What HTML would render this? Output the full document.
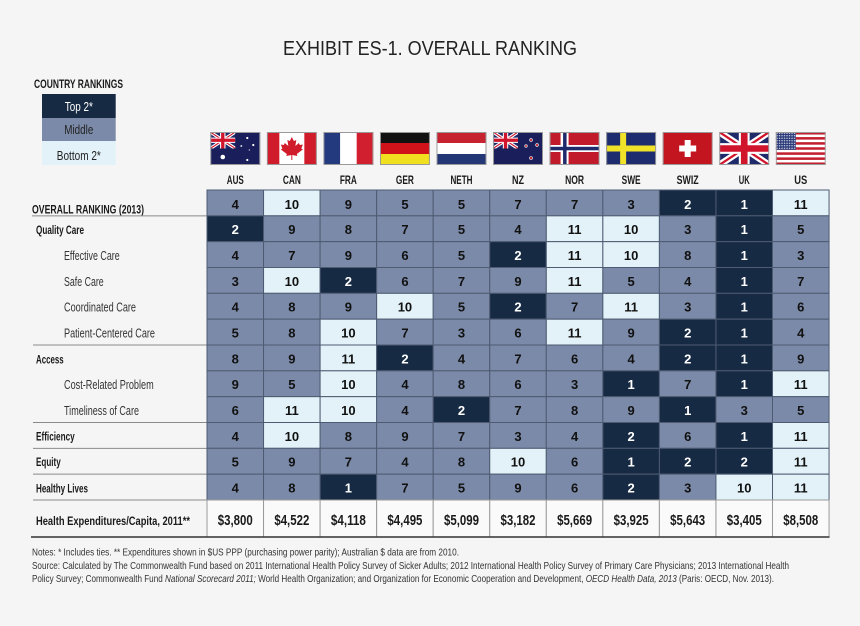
<!DOCTYPE html>
<html><head><meta charset="utf-8"><style>
html,body{margin:0;padding:0;background:#f5f5f5;}
svg{display:block;}
text{font-family:"Liberation Sans Narrow","Liberation Sans",sans-serif;}
.n{font-size:13px;font-weight:bold;text-anchor:middle;fill:#111;}
.w{fill:#fff;}
.row rect{stroke:#4e5b72;stroke-width:1;}
rect.d{fill:#172a43;} rect.m{fill:#7b8aa8;} rect.l{fill:#e3f2f8;}
.lb{font-size:12px;font-weight:bold;fill:#1a1a1a;}
.ls{font-size:12.5px;fill:#333;}
.hd{font-size:12px;font-weight:bold;fill:#1a1a1a;text-anchor:middle;}
.ex{font-size:15px;font-weight:bold;fill:#1a1a1a;text-anchor:middle;}
.nt{font-size:10.3px;fill:#333;}
</style></head><body>
<svg width="860" height="626" viewBox="0 0 860 626" xmlns="http://www.w3.org/2000/svg">
<defs>
<symbol id="uj" viewBox="0 0 60 40" preserveAspectRatio="none">
<rect width="60" height="40" fill="#1f2a6b"/>
<path d="M0,0 L60,40 M60,0 L0,40" stroke="#fff" stroke-width="8"/>
<path d="M0,0 L60,40 M60,0 L0,40" stroke="#cf142b" stroke-width="2.7"/>
<path d="M30,0 V40 M0,20 H60" stroke="#fff" stroke-width="13"/>
<path d="M30,0 V40 M0,20 H60" stroke="#cf142b" stroke-width="8"/>
</symbol>
<pattern id="stars" width="2.5" height="2.5" patternUnits="userSpaceOnUse"><circle cx="1.25" cy="1.25" r="0.6" fill="#fff"/></pattern>
</defs>
<rect width="860" height="626" fill="#f5f5f5"/>

<text x="283" y="55" textLength="294" lengthAdjust="spacingAndGlyphs" style="font-family:'Liberation Sans',sans-serif;font-size:20px;fill:#222;">EXHIBIT ES-1. OVERALL RANKING</text>

<!-- legend -->
<text x="34" y="88" class="lb" style="font-size:11.5px" textLength="89" lengthAdjust="spacingAndGlyphs">COUNTRY RANKINGS</text>
<rect x="42" y="94" width="73.7" height="24" fill="#172a43"/>
<rect x="42" y="118" width="73.7" height="23" fill="#7b8aa8"/>
<rect x="42" y="141" width="73.7" height="24" fill="#e3f2f8"/>
<text x="78.8" y="111" text-anchor="middle" style="font-size:12.5px;fill:#fff" textLength="28" lengthAdjust="spacingAndGlyphs">Top 2*</text>
<text x="78.8" y="134" text-anchor="middle" style="font-size:12.5px;fill:#222" textLength="29" lengthAdjust="spacingAndGlyphs">Middle</text>
<text x="78.8" y="160" text-anchor="middle" style="font-size:12.5px;fill:#222" textLength="44" lengthAdjust="spacingAndGlyphs">Bottom 2*</text>

<!-- flags -->
<svg x="210.28" y="132" width="50" height="33" viewBox="0 0 50 33">
<rect width="50" height="33" fill="#1a1f5c"/>
<use href="#uj" x="0" y="0" width="25" height="16.5"/>
<circle cx="12.5" cy="25" r="2.3" fill="#fff"/>
<circle cx="37" cy="6" r="1.1" fill="#fff"/><circle cx="43" cy="13" r="1.1" fill="#fff"/>
<circle cx="31" cy="14" r="0.9" fill="#fff"/><circle cx="37" cy="28" r="1.1" fill="#fff"/><circle cx="39" cy="18" r="0.6" fill="#fff"/>
<rect x="0.5" y="0.5" width="49" height="32" fill="none" stroke="#999"/>
</svg>
<svg x="266.83" y="132" width="50" height="33" viewBox="0 0 50 33">
<rect width="50" height="33" fill="#fff"/>
<rect width="12.5" height="33" fill="#d01c2a"/><rect x="37.5" width="12.5" height="33" fill="#d01c2a"/>
<polygon fill="#d01c2a" points="25,5 27,9 29.5,8 28.5,14 32,11 33,13 36,12.5 34.5,16.5 36,17.5 30,22 30.5,24 25.5,23 25.5,28 24.5,28 24.5,23 19.5,24 20,22 14,17.5 15.5,16.5 14,12.5 17,13 18,11 21.5,14 20.5,8 23,9"/>
<rect x="0.5" y="0.5" width="49" height="32" fill="none" stroke="#999"/>
</svg>
<svg x="323.38" y="132" width="50" height="33" viewBox="0 0 50 33">
<rect width="50" height="33" fill="#fff"/>
<rect width="16.7" height="33" fill="#243a7f"/><rect x="33.3" width="16.7" height="33" fill="#d21f2f"/>
<rect x="0.5" y="0.5" width="49" height="32" fill="none" stroke="#999"/>
</svg>
<svg x="379.93" y="132" width="50" height="33" viewBox="0 0 50 33">
<rect width="50" height="11" fill="#111"/><rect y="11" width="50" height="11" fill="#d0121b"/><rect y="22" width="50" height="11" fill="#f0e020"/>
<rect x="0.5" y="0.5" width="49" height="32" fill="none" stroke="#999"/>
</svg>
<svg x="436.48" y="132" width="50" height="33" viewBox="0 0 50 33">
<rect width="50" height="11" fill="#c62230"/><rect y="11" width="50" height="11" fill="#fff"/><rect y="22" width="50" height="11" fill="#233777"/>
<rect x="0.5" y="0.5" width="49" height="32" fill="none" stroke="#999"/>
</svg>
<svg x="493.03" y="132" width="50" height="33" viewBox="0 0 50 33">
<rect width="50" height="33" fill="#1a1f5c"/>
<use href="#uj" x="0" y="0" width="25" height="16.5"/>
<g fill="#c8202c" stroke="#fff" stroke-width="0.6">
<circle cx="38" cy="8" r="1.4"/><circle cx="44" cy="13" r="1.4"/><circle cx="33" cy="14" r="1.3"/><circle cx="38" cy="26" r="1.5"/></g>
<rect x="0.5" y="0.5" width="49" height="32" fill="none" stroke="#999"/>
</svg>
<svg x="549.58" y="132" width="50" height="33" viewBox="0 0 50 33">
<rect width="50" height="33" fill="#c11b2b"/>
<rect x="11" width="8" height="33" fill="#fff"/><rect y="13" width="50" height="7" fill="#fff"/>
<rect x="13.5" width="3.5" height="33" fill="#1f2a6b"/><rect y="14.8" width="50" height="3.5" fill="#1f2a6b"/>
<rect x="0.5" y="0.5" width="49" height="32" fill="none" stroke="#999"/>
</svg>
<svg x="606.13" y="132" width="50" height="33" viewBox="0 0 50 33">
<rect width="50" height="33" fill="#1d2c6e"/>
<rect x="14" width="6" height="33" fill="#f0e228"/><rect y="13.5" width="50" height="6" fill="#f0e228"/>
<rect x="0.5" y="0.5" width="49" height="32" fill="none" stroke="#999"/>
</svg>
<svg x="662.68" y="132" width="50" height="33" viewBox="0 0 50 33">
<rect width="50" height="33" fill="#c3151f"/>
<rect x="22" y="8" width="6" height="17" fill="#fff"/><rect x="16.5" y="13.5" width="17" height="6" fill="#fff"/>
<rect x="0.5" y="0.5" width="49" height="32" fill="none" stroke="#999"/>
</svg>
<svg x="719.23" y="132" width="50" height="33" viewBox="0 0 50 33">
<use href="#uj" x="0" y="0" width="50" height="33"/>
<rect x="0.5" y="0.5" width="49" height="32" fill="none" stroke="#999"/>
</svg>
<svg x="775.78" y="132" width="50" height="33" viewBox="0 0 50 33">
<rect width="50" height="33" fill="#fff"/>
<g fill="#c3202f"><rect y="0" width="50" height="2.54"/><rect y="5.08" width="50" height="2.54"/><rect y="10.15" width="50" height="2.54"/><rect y="15.23" width="50" height="2.54"/><rect y="20.31" width="50" height="2.54"/><rect y="25.38" width="50" height="2.54"/><rect y="30.46" width="50" height="2.54"/></g>
<rect width="20" height="17.8" fill="#2a3a7a"/><rect width="20" height="17.8" fill="url(#stars)"/>
<rect x="0.5" y="0.5" width="49" height="32" fill="none" stroke="#999"/>
</svg>

<!-- column headers -->
<text class="hd" x="235.28" y="184" textLength="17" lengthAdjust="spacingAndGlyphs">AUS</text>
<text class="hd" x="291.83" y="184" textLength="18" lengthAdjust="spacingAndGlyphs">CAN</text>
<text class="hd" x="348.38" y="184" textLength="17" lengthAdjust="spacingAndGlyphs">FRA</text>
<text class="hd" x="404.93" y="184" textLength="18" lengthAdjust="spacingAndGlyphs">GER</text>
<text class="hd" x="461.48" y="184" textLength="22" lengthAdjust="spacingAndGlyphs">NETH</text>
<text class="hd" x="518.03" y="184" textLength="12" lengthAdjust="spacingAndGlyphs">NZ</text>
<text class="hd" x="574.58" y="184" textLength="19" lengthAdjust="spacingAndGlyphs">NOR</text>
<text class="hd" x="631.13" y="184" textLength="19" lengthAdjust="spacingAndGlyphs">SWE</text>
<text class="hd" x="687.68" y="184" textLength="22" lengthAdjust="spacingAndGlyphs">SWIZ</text>
<text class="hd" x="744.23" y="184" textLength="11" lengthAdjust="spacingAndGlyphs">UK</text>
<text class="hd" x="800.78" y="184" textLength="13" lengthAdjust="spacingAndGlyphs">US</text>

<!-- left labels -->
<text class="lb" x="32" y="213.3" textLength="112" lengthAdjust="spacingAndGlyphs">OVERALL RANKING (2013)</text>
<text class="lb" x="36" y="234.2" textLength="48" lengthAdjust="spacingAndGlyphs">Quality Care</text>
<text class="ls" x="64" y="260.1" textLength="55.7" lengthAdjust="spacingAndGlyphs">Effective Care</text>
<text class="ls" x="64" y="285.9" textLength="39.7" lengthAdjust="spacingAndGlyphs">Safe Care</text>
<text class="ls" x="64" y="311.7" textLength="72" lengthAdjust="spacingAndGlyphs">Coordinated Care</text>
<text class="ls" x="64" y="337.6" textLength="91" lengthAdjust="spacingAndGlyphs">Patient-Centered Care</text>
<text class="lb" x="36" y="363.4" textLength="27.7" lengthAdjust="spacingAndGlyphs">Access</text>
<text class="ls" x="64" y="389.2" textLength="89.7" lengthAdjust="spacingAndGlyphs">Cost-Related Problem</text>
<text class="ls" x="64" y="415.1" textLength="75" lengthAdjust="spacingAndGlyphs">Timeliness of Care</text>
<text class="lb" x="36" y="440.4" textLength="38.7" lengthAdjust="spacingAndGlyphs">Efficiency</text>
<text class="lb" x="36" y="466.2" textLength="24.7" lengthAdjust="spacingAndGlyphs">Equity</text>
<text class="lb" x="36" y="492.6" textLength="52" lengthAdjust="spacingAndGlyphs">Healthy Lives</text>
<text class="lb" x="36" y="525" textLength="154" lengthAdjust="spacingAndGlyphs">Health Expenditures/Capita, 2011**</text>

<g stroke="#8a8a8a" stroke-width="1">
<line x1="32" y1="215.83" x2="207" y2="215.83"/>
<line x1="33" y1="345" x2="207" y2="345"/>
<line x1="33" y1="422.5" x2="207" y2="422.5"/>
<line x1="33" y1="448.33" x2="207" y2="448.33"/>
<line x1="33" y1="474.17" x2="207" y2="474.17"/>
<line x1="33" y1="500" x2="207" y2="500"/>
</g>

<!-- R0 Overall -->
<g class="row" transform="translate(0,190)">
<rect class="m" x="207" width="56.55" height="25.83"/><rect class="l" x="263.55" width="56.55" height="25.83"/><rect class="m" x="320.1" width="56.55" height="25.83"/><rect class="m" x="376.65" width="56.55" height="25.83"/><rect class="m" x="433.2" width="56.55" height="25.83"/><rect class="m" x="489.75" width="56.55" height="25.83"/><rect class="m" x="546.3" width="56.55" height="25.83"/><rect class="m" x="602.85" width="56.55" height="25.83"/><rect class="d" x="659.4" width="56.55" height="25.83"/><rect class="d" x="715.95" width="56.55" height="25.83"/><rect class="l" x="772.5" width="56.55" height="25.83"/>
<text class="n" x="235.28" y="18.8">4</text><text class="n" x="291.83" y="18.8">10</text><text class="n" x="348.38" y="18.8">9</text><text class="n" x="404.93" y="18.8">5</text><text class="n" x="461.48" y="18.8">5</text><text class="n" x="518.03" y="18.8">7</text><text class="n" x="574.58" y="18.8">7</text><text class="n" x="631.13" y="18.8">3</text><text class="n w" x="687.68" y="18.8">2</text><text class="n w" x="744.23" y="18.8">1</text><text class="n" x="800.78" y="18.8">11</text>
</g>
<!-- R1 Quality -->
<g class="row" transform="translate(0,215.83)">
<rect class="d" x="207" width="56.55" height="25.83"/><rect class="m" x="263.55" width="56.55" height="25.83"/><rect class="m" x="320.1" width="56.55" height="25.83"/><rect class="m" x="376.65" width="56.55" height="25.83"/><rect class="m" x="433.2" width="56.55" height="25.83"/><rect class="m" x="489.75" width="56.55" height="25.83"/><rect class="l" x="546.3" width="56.55" height="25.83"/><rect class="l" x="602.85" width="56.55" height="25.83"/><rect class="m" x="659.4" width="56.55" height="25.83"/><rect class="d" x="715.95" width="56.55" height="25.83"/><rect class="m" x="772.5" width="56.55" height="25.83"/>
<text class="n w" x="235.28" y="18.4">2</text><text class="n" x="291.83" y="18.4">9</text><text class="n" x="348.38" y="18.4">8</text><text class="n" x="404.93" y="18.4">7</text><text class="n" x="461.48" y="18.4">5</text><text class="n" x="518.03" y="18.4">4</text><text class="n" x="574.58" y="18.4">11</text><text class="n" x="631.13" y="18.4">10</text><text class="n" x="687.68" y="18.4">3</text><text class="n w" x="744.23" y="18.4">1</text><text class="n" x="800.78" y="18.4">5</text>
</g>
<!-- R2 Effective -->
<g class="row" transform="translate(0,241.67)">
<rect class="m" x="207" width="56.55" height="25.83"/><rect class="m" x="263.55" width="56.55" height="25.83"/><rect class="m" x="320.1" width="56.55" height="25.83"/><rect class="m" x="376.65" width="56.55" height="25.83"/><rect class="m" x="433.2" width="56.55" height="25.83"/><rect class="d" x="489.75" width="56.55" height="25.83"/><rect class="l" x="546.3" width="56.55" height="25.83"/><rect class="l" x="602.85" width="56.55" height="25.83"/><rect class="m" x="659.4" width="56.55" height="25.83"/><rect class="d" x="715.95" width="56.55" height="25.83"/><rect class="m" x="772.5" width="56.55" height="25.83"/>
<text class="n" x="235.28" y="18.4">4</text><text class="n" x="291.83" y="18.4">7</text><text class="n" x="348.38" y="18.4">9</text><text class="n" x="404.93" y="18.4">6</text><text class="n" x="461.48" y="18.4">5</text><text class="n w" x="518.03" y="18.4">2</text><text class="n" x="574.58" y="18.4">11</text><text class="n" x="631.13" y="18.4">10</text><text class="n" x="687.68" y="18.4">8</text><text class="n w" x="744.23" y="18.4">1</text><text class="n" x="800.78" y="18.4">3</text>
</g>
<!-- R3 Safe -->
<g class="row" transform="translate(0,267.5)">
<rect class="m" x="207" width="56.55" height="25.83"/><rect class="l" x="263.55" width="56.55" height="25.83"/><rect class="d" x="320.1" width="56.55" height="25.83"/><rect class="m" x="376.65" width="56.55" height="25.83"/><rect class="m" x="433.2" width="56.55" height="25.83"/><rect class="m" x="489.75" width="56.55" height="25.83"/><rect class="l" x="546.3" width="56.55" height="25.83"/><rect class="m" x="602.85" width="56.55" height="25.83"/><rect class="m" x="659.4" width="56.55" height="25.83"/><rect class="d" x="715.95" width="56.55" height="25.83"/><rect class="m" x="772.5" width="56.55" height="25.83"/>
<text class="n" x="235.28" y="18.4">3</text><text class="n" x="291.83" y="18.4">10</text><text class="n w" x="348.38" y="18.4">2</text><text class="n" x="404.93" y="18.4">6</text><text class="n" x="461.48" y="18.4">7</text><text class="n" x="518.03" y="18.4">9</text><text class="n" x="574.58" y="18.4">11</text><text class="n" x="631.13" y="18.4">5</text><text class="n" x="687.68" y="18.4">4</text><text class="n w" x="744.23" y="18.4">1</text><text class="n" x="800.78" y="18.4">7</text>
</g>
<!-- R4 Coordinated -->
<g class="row" transform="translate(0,293.33)">
<rect class="m" x="207" width="56.55" height="25.83"/><rect class="m" x="263.55" width="56.55" height="25.83"/><rect class="m" x="320.1" width="56.55" height="25.83"/><rect class="l" x="376.65" width="56.55" height="25.83"/><rect class="m" x="433.2" width="56.55" height="25.83"/><rect class="d" x="489.75" width="56.55" height="25.83"/><rect class="m" x="546.3" width="56.55" height="25.83"/><rect class="l" x="602.85" width="56.55" height="25.83"/><rect class="m" x="659.4" width="56.55" height="25.83"/><rect class="d" x="715.95" width="56.55" height="25.83"/><rect class="m" x="772.5" width="56.55" height="25.83"/>
<text class="n" x="235.28" y="18.4">4</text><text class="n" x="291.83" y="18.4">8</text><text class="n" x="348.38" y="18.4">9</text><text class="n" x="404.93" y="18.4">10</text><text class="n" x="461.48" y="18.4">5</text><text class="n w" x="518.03" y="18.4">2</text><text class="n" x="574.58" y="18.4">7</text><text class="n" x="631.13" y="18.4">11</text><text class="n" x="687.68" y="18.4">3</text><text class="n w" x="744.23" y="18.4">1</text><text class="n" x="800.78" y="18.4">6</text>
</g>
<!-- R5 Patient -->
<g class="row" transform="translate(0,319.17)">
<rect class="m" x="207" width="56.55" height="25.83"/><rect class="m" x="263.55" width="56.55" height="25.83"/><rect class="l" x="320.1" width="56.55" height="25.83"/><rect class="m" x="376.65" width="56.55" height="25.83"/><rect class="m" x="433.2" width="56.55" height="25.83"/><rect class="m" x="489.75" width="56.55" height="25.83"/><rect class="l" x="546.3" width="56.55" height="25.83"/><rect class="m" x="602.85" width="56.55" height="25.83"/><rect class="d" x="659.4" width="56.55" height="25.83"/><rect class="d" x="715.95" width="56.55" height="25.83"/><rect class="m" x="772.5" width="56.55" height="25.83"/>
<text class="n" x="235.28" y="18.4">5</text><text class="n" x="291.83" y="18.4">8</text><text class="n" x="348.38" y="18.4">10</text><text class="n" x="404.93" y="18.4">7</text><text class="n" x="461.48" y="18.4">3</text><text class="n" x="518.03" y="18.4">6</text><text class="n" x="574.58" y="18.4">11</text><text class="n" x="631.13" y="18.4">9</text><text class="n w" x="687.68" y="18.4">2</text><text class="n w" x="744.23" y="18.4">1</text><text class="n" x="800.78" y="18.4">4</text>
</g>
<!-- R6 Access -->
<g class="row" transform="translate(0,345)">
<rect class="m" x="207" width="56.55" height="25.83"/><rect class="m" x="263.55" width="56.55" height="25.83"/><rect class="l" x="320.1" width="56.55" height="25.83"/><rect class="d" x="376.65" width="56.55" height="25.83"/><rect class="m" x="433.2" width="56.55" height="25.83"/><rect class="m" x="489.75" width="56.55" height="25.83"/><rect class="m" x="546.3" width="56.55" height="25.83"/><rect class="m" x="602.85" width="56.55" height="25.83"/><rect class="d" x="659.4" width="56.55" height="25.83"/><rect class="d" x="715.95" width="56.55" height="25.83"/><rect class="m" x="772.5" width="56.55" height="25.83"/>
<text class="n" x="235.28" y="18.4">8</text><text class="n" x="291.83" y="18.4">9</text><text class="n" x="348.38" y="18.4">11</text><text class="n w" x="404.93" y="18.4">2</text><text class="n" x="461.48" y="18.4">4</text><text class="n" x="518.03" y="18.4">7</text><text class="n" x="574.58" y="18.4">6</text><text class="n" x="631.13" y="18.4">4</text><text class="n w" x="687.68" y="18.4">2</text><text class="n w" x="744.23" y="18.4">1</text><text class="n" x="800.78" y="18.4">9</text>
</g>
<!-- R7 Cost -->
<g class="row" transform="translate(0,370.83)">
<rect class="m" x="207" width="56.55" height="25.83"/><rect class="m" x="263.55" width="56.55" height="25.83"/><rect class="l" x="320.1" width="56.55" height="25.83"/><rect class="m" x="376.65" width="56.55" height="25.83"/><rect class="m" x="433.2" width="56.55" height="25.83"/><rect class="m" x="489.75" width="56.55" height="25.83"/><rect class="m" x="546.3" width="56.55" height="25.83"/><rect class="d" x="602.85" width="56.55" height="25.83"/><rect class="m" x="659.4" width="56.55" height="25.83"/><rect class="d" x="715.95" width="56.55" height="25.83"/><rect class="l" x="772.5" width="56.55" height="25.83"/>
<text class="n" x="235.28" y="18.4">9</text><text class="n" x="291.83" y="18.4">5</text><text class="n" x="348.38" y="18.4">10</text><text class="n" x="404.93" y="18.4">4</text><text class="n" x="461.48" y="18.4">8</text><text class="n" x="518.03" y="18.4">6</text><text class="n" x="574.58" y="18.4">3</text><text class="n w" x="631.13" y="18.4">1</text><text class="n" x="687.68" y="18.4">7</text><text class="n w" x="744.23" y="18.4">1</text><text class="n" x="800.78" y="18.4">11</text>
</g>
<!-- R8 Timeliness -->
<g class="row" transform="translate(0,396.67)">
<rect class="m" x="207" width="56.55" height="25.83"/><rect class="l" x="263.55" width="56.55" height="25.83"/><rect class="l" x="320.1" width="56.55" height="25.83"/><rect class="m" x="376.65" width="56.55" height="25.83"/><rect class="d" x="433.2" width="56.55" height="25.83"/><rect class="m" x="489.75" width="56.55" height="25.83"/><rect class="m" x="546.3" width="56.55" height="25.83"/><rect class="m" x="602.85" width="56.55" height="25.83"/><rect class="d" x="659.4" width="56.55" height="25.83"/><rect class="m" x="715.95" width="56.55" height="25.83"/><rect class="m" x="772.5" width="56.55" height="25.83"/>
<text class="n" x="235.28" y="18.4">6</text><text class="n" x="291.83" y="18.4">11</text><text class="n" x="348.38" y="18.4">10</text><text class="n" x="404.93" y="18.4">4</text><text class="n w" x="461.48" y="18.4">2</text><text class="n" x="518.03" y="18.4">7</text><text class="n" x="574.58" y="18.4">8</text><text class="n" x="631.13" y="18.4">9</text><text class="n w" x="687.68" y="18.4">1</text><text class="n" x="744.23" y="18.4">3</text><text class="n" x="800.78" y="18.4">5</text>
</g>
<!-- R9 Efficiency -->
<g class="row" transform="translate(0,422.5)">
<rect class="m" x="207" width="56.55" height="25.83"/><rect class="l" x="263.55" width="56.55" height="25.83"/><rect class="m" x="320.1" width="56.55" height="25.83"/><rect class="m" x="376.65" width="56.55" height="25.83"/><rect class="m" x="433.2" width="56.55" height="25.83"/><rect class="m" x="489.75" width="56.55" height="25.83"/><rect class="m" x="546.3" width="56.55" height="25.83"/><rect class="d" x="602.85" width="56.55" height="25.83"/><rect class="m" x="659.4" width="56.55" height="25.83"/><rect class="d" x="715.95" width="56.55" height="25.83"/><rect class="l" x="772.5" width="56.55" height="25.83"/>
<text class="n" x="235.28" y="18.4">4</text><text class="n" x="291.83" y="18.4">10</text><text class="n" x="348.38" y="18.4">8</text><text class="n" x="404.93" y="18.4">9</text><text class="n" x="461.48" y="18.4">7</text><text class="n" x="518.03" y="18.4">3</text><text class="n" x="574.58" y="18.4">4</text><text class="n w" x="631.13" y="18.4">2</text><text class="n" x="687.68" y="18.4">6</text><text class="n w" x="744.23" y="18.4">1</text><text class="n" x="800.78" y="18.4">11</text>
</g>
<!-- R10 Equity -->
<g class="row" transform="translate(0,448.33)">
<rect class="m" x="207" width="56.55" height="25.83"/><rect class="m" x="263.55" width="56.55" height="25.83"/><rect class="m" x="320.1" width="56.55" height="25.83"/><rect class="m" x="376.65" width="56.55" height="25.83"/><rect class="m" x="433.2" width="56.55" height="25.83"/><rect class="l" x="489.75" width="56.55" height="25.83"/><rect class="m" x="546.3" width="56.55" height="25.83"/><rect class="d" x="602.85" width="56.55" height="25.83"/><rect class="d" x="659.4" width="56.55" height="25.83"/><rect class="d" x="715.95" width="56.55" height="25.83"/><rect class="l" x="772.5" width="56.55" height="25.83"/>
<text class="n" x="235.28" y="18.4">5</text><text class="n" x="291.83" y="18.4">9</text><text class="n" x="348.38" y="18.4">7</text><text class="n" x="404.93" y="18.4">4</text><text class="n" x="461.48" y="18.4">8</text><text class="n" x="518.03" y="18.4">10</text><text class="n" x="574.58" y="18.4">6</text><text class="n w" x="631.13" y="18.4">1</text><text class="n w" x="687.68" y="18.4">2</text><text class="n w" x="744.23" y="18.4">2</text><text class="n" x="800.78" y="18.4">11</text>
</g>
<!-- R11 Healthy -->
<g class="row" transform="translate(0,474.17)">
<rect class="m" x="207" width="56.55" height="25.83"/><rect class="m" x="263.55" width="56.55" height="25.83"/><rect class="d" x="320.1" width="56.55" height="25.83"/><rect class="m" x="376.65" width="56.55" height="25.83"/><rect class="m" x="433.2" width="56.55" height="25.83"/><rect class="m" x="489.75" width="56.55" height="25.83"/><rect class="m" x="546.3" width="56.55" height="25.83"/><rect class="d" x="602.85" width="56.55" height="25.83"/><rect class="m" x="659.4" width="56.55" height="25.83"/><rect class="l" x="715.95" width="56.55" height="25.83"/><rect class="l" x="772.5" width="56.55" height="25.83"/>
<text class="n" x="235.28" y="18.4">4</text><text class="n" x="291.83" y="18.4">8</text><text class="n w" x="348.38" y="18.4">1</text><text class="n" x="404.93" y="18.4">7</text><text class="n" x="461.48" y="18.4">5</text><text class="n" x="518.03" y="18.4">9</text><text class="n" x="574.58" y="18.4">6</text><text class="n w" x="631.13" y="18.4">2</text><text class="n" x="687.68" y="18.4">3</text><text class="n" x="744.23" y="18.4">10</text><text class="n" x="800.78" y="18.4">11</text>
</g>
<!-- Expenditures -->
<g transform="translate(0,500)">
<g fill="#fafafa" stroke="#9a9a9a" stroke-width="1">
<rect x="207" width="56.55" height="37"/><rect x="263.55" width="56.55" height="37"/><rect x="320.1" width="56.55" height="37"/><rect x="376.65" width="56.55" height="37"/><rect x="433.2" width="56.55" height="37"/><rect x="489.75" width="56.55" height="37"/><rect x="546.3" width="56.55" height="37"/><rect x="602.85" width="56.55" height="37"/><rect x="659.4" width="56.55" height="37"/><rect x="715.95" width="56.55" height="37"/><rect x="772.5" width="56.55" height="37"/>
</g>
<text class="ex" x="235.28" y="25" textLength="35" lengthAdjust="spacingAndGlyphs">$3,800</text>
<text class="ex" x="291.83" y="25" textLength="35" lengthAdjust="spacingAndGlyphs">$4,522</text>
<text class="ex" x="348.38" y="25" textLength="35" lengthAdjust="spacingAndGlyphs">$4,118</text>
<text class="ex" x="404.93" y="25" textLength="35" lengthAdjust="spacingAndGlyphs">$4,495</text>
<text class="ex" x="461.48" y="25" textLength="35" lengthAdjust="spacingAndGlyphs">$5,099</text>
<text class="ex" x="518.03" y="25" textLength="35" lengthAdjust="spacingAndGlyphs">$3,182</text>
<text class="ex" x="574.58" y="25" textLength="35" lengthAdjust="spacingAndGlyphs">$5,669</text>
<text class="ex" x="631.13" y="25" textLength="35" lengthAdjust="spacingAndGlyphs">$3,925</text>
<text class="ex" x="687.68" y="25" textLength="35" lengthAdjust="spacingAndGlyphs">$5,643</text>
<text class="ex" x="744.23" y="25" textLength="35" lengthAdjust="spacingAndGlyphs">$3,405</text>
<text class="ex" x="800.78" y="25" textLength="35" lengthAdjust="spacingAndGlyphs">$8,508</text>
</g>
<line x1="31" y1="537" x2="829.5" y2="537" stroke="#333" stroke-width="1.6"/>

<!-- notes -->
<text class="nt" x="32" y="555.5" textLength="427" lengthAdjust="spacingAndGlyphs">Notes: * Includes ties. ** Expenditures shown in $US PPP (purchasing power parity); Australian $ data are from 2010.</text>
<text class="nt" x="32" y="569" textLength="757" lengthAdjust="spacingAndGlyphs">Source: Calculated by The Commonwealth Fund based on 2011 International Health Policy Survey of Sicker Adults; 2012 International Health Policy Survey of Primary Care Physicians; 2013 International Health</text>
<text class="nt" x="32" y="582" textLength="742" lengthAdjust="spacingAndGlyphs">Policy Survey; Commonwealth Fund <tspan font-style="italic">National Scorecard 2011;</tspan> World Health Organization; and Organization for Economic Cooperation and Development, <tspan font-style="italic">OECD Health Data, 2013</tspan> (Paris: OECD, Nov. 2013).</text>
</svg>
</body></html>
